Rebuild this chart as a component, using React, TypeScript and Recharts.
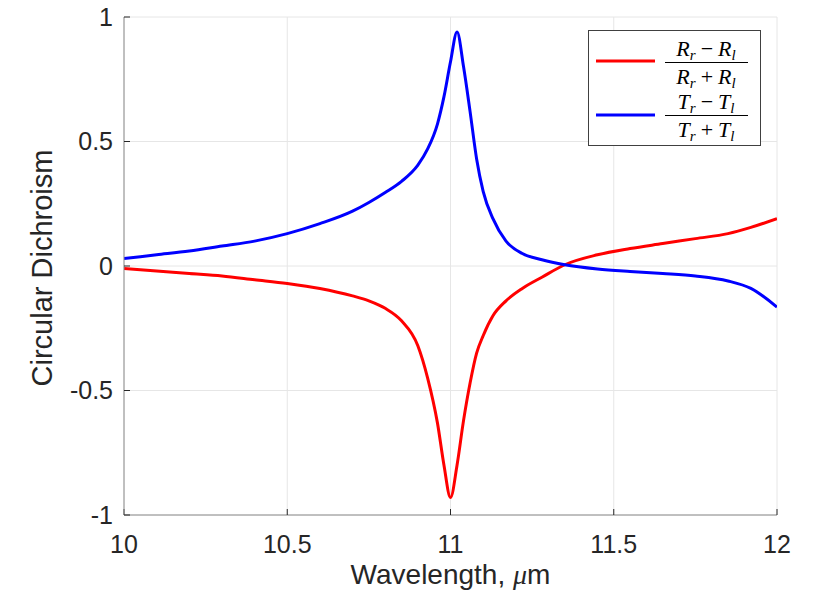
import React from "react";
import { LineChart, Line, XAxis, YAxis, CartesianGrid } from "recharts";

// wavelength in micrometres
const wavelength = [
  10, 10.1, 10.2, 10.3, 10.4, 10.5, 10.6, 10.7, 10.75, 10.8, 10.85, 10.9, 10.93, 10.96, 10.98,
  11.0, 11.02, 11.04, 11.06, 11.08, 11.1, 11.13, 11.17, 11.22, 11.28, 11.35, 11.45, 11.55,
  11.65, 11.75, 11.85, 11.92, 12,
];

// (Rr - Rl) / (Rr + Rl)
const reflectCD = [
  -0.01, -0.02, -0.03, -0.04, -0.055, -0.07, -0.09, -0.12, -0.14, -0.17, -0.22, -0.32, -0.45,
  -0.63, -0.8, -0.93, -0.8, -0.62, -0.47, -0.35, -0.28, -0.2, -0.14, -0.09, -0.045, 0.005,
  0.045, 0.07, 0.09, 0.11, 0.13, 0.155, 0.19,
];

// (Tr - Tl) / (Tr + Tl)
const transmitCD = [
  0.03, 0.045, 0.06, 0.08, 0.1, 0.13, 0.17, 0.22, 0.255, 0.295, 0.34, 0.405, 0.47, 0.57, 0.68,
  0.82, 0.94, 0.8, 0.62, 0.43, 0.3, 0.19, 0.1, 0.05, 0.025, 0.005, -0.012, -0.022, -0.03,
  -0.04, -0.06, -0.09, -0.165,
];

const xTicks = [10, 10.5, 11, 11.5, 12];
const yTicks = [-1, -0.5, 0, 0.5, 1];

const chartData = wavelength.map((w, i) => ({ w, R: reflectCD[i], T: transmitCD[i] }));

const sans = "'Liberation Sans', Arial, sans-serif";
const serif = "'Liberation Serif', 'Times New Roman', serif";
const tickStyle = { fontSize: 25, fill: "#262626", fontFamily: sans };
const hiddenTick = { fontSize: 0, fill: "none" };
const boxColor = "#8c8c8c";

const legendItems = [
  { color: "#ff0000", s: "R", lineY: 61, barY: 62.5, numY: 56, denY: 84 },
  { color: "#0000ff", s: "T", lineY: 115, barY: 115.5, numY: 109, denY: 137 },
];

// LaTeX-like fraction (X_r op X_l) drawn as svg text
const fracRow = (s: string, op: string, cx: number, y: number) => (
  <text x={cx} y={y} textAnchor="middle" fontFamily={serif} fontStyle="italic" fontSize={22} fill="#000">
    {s}
    <tspan fontSize={15} dy={4}>r</tspan>
    <tspan fontStyle="normal" dx={5} dy={-4}>{op}</tspan>
    <tspan dx={5}>{s}</tspan>
    <tspan fontSize={15} dy={4}>l</tspan>
  </text>
);

const YLabel = (props: any) => {
  const { viewBox } = props;
  const cx = viewBox.x + 42;
  const cy = 268;
  return (
    <text x={cx} y={cy} transform={`rotate(-90, ${cx}, ${cy})`} textAnchor="middle" dominantBaseline="central" fontSize={29} fill="#262626" fontFamily={sans}>
      Circular Dichroism
    </text>
  );
};

const XLabel = (props: any) => {
  const { viewBox } = props;
  const cx = viewBox.x + viewBox.width / 2;
  return (
    <text x={cx} y={584} textAnchor="middle" fontSize={28} fill="#262626" fontFamily={sans}>
      Wavelength, <tspan fontFamily={serif} fontStyle="italic">μ</tspan>m
    </text>
  );
};

const App: React.FC = () => {
  return (
    <div style={{ position: "absolute", left: 0, top: 0, width: 813, height: 601, background: "#fff" }}>
      <LineChart width={813} height={601} data={chartData} margin={{ top: 17, right: 36, bottom: 26, left: 0 }}>
        <CartesianGrid stroke="#e6e6e6" strokeWidth={1} />
        <XAxis
          dataKey="w"
          type="number"
          domain={[10, 12]}
          ticks={xTicks}
          allowDataOverflow
          height={60}
          tick={tickStyle}
          tickSize={-6}
          tickMargin={26}
          axisLine={{ stroke: boxColor }}
          tickLine={{ stroke: "#262626" }}
          label={<XLabel />}
        />
        <XAxis
          xAxisId="top"
          orientation="top"
          type="number"
          domain={[10, 12]}
          ticks={xTicks}
          height={0}
          tick={hiddenTick}
          tickSize={-6}
          axisLine={{ stroke: boxColor }}
          tickLine={{ stroke: "#262626" }}
        />
        <YAxis
          type="number"
          domain={[-1, 1]}
          ticks={yTicks}
          width={124}
          tick={tickStyle}
          tickSize={-6}
          tickMargin={17}
          axisLine={{ stroke: boxColor }}
          tickLine={{ stroke: "#262626" }}
          label={<YLabel />}
        />
        <YAxis
          yAxisId="right"
          orientation="right"
          type="number"
          domain={[-1, 1]}
          ticks={yTicks}
          width={0}
          tick={hiddenTick}
          tickSize={-6}
          axisLine={{ stroke: boxColor }}
          tickLine={{ stroke: "#262626" }}
        />
        <Line type="monotone" dataKey="R" stroke="#ff0000" strokeWidth={3} dot={false} isAnimationActive={false} />
        <Line type="monotone" dataKey="T" stroke="#0000ff" strokeWidth={3} dot={false} isAnimationActive={false} />
      </LineChart>

      {/* legend */}
      <svg width={813} height={601} style={{ position: "absolute", left: 0, top: 0, pointerEvents: "none" }}>
        <rect x={588.5} y={30.5} width={172} height={115} fill="#fff" stroke="#404040" strokeWidth={1} />
        {legendItems.map((it) => (
          <g key={it.s}>
            <line x1={596} x2={655} y1={it.lineY} y2={it.lineY} stroke={it.color} strokeWidth={3} />
            {fracRow(it.s, "−", 706, it.numY)}
            <line x1={665} x2={748} y1={it.barY} y2={it.barY} stroke="#000" strokeWidth={1.2} />
            {fracRow(it.s, "+", 706, it.denY)}
          </g>
        ))}
      </svg>
    </div>
  );
};

export default App;
